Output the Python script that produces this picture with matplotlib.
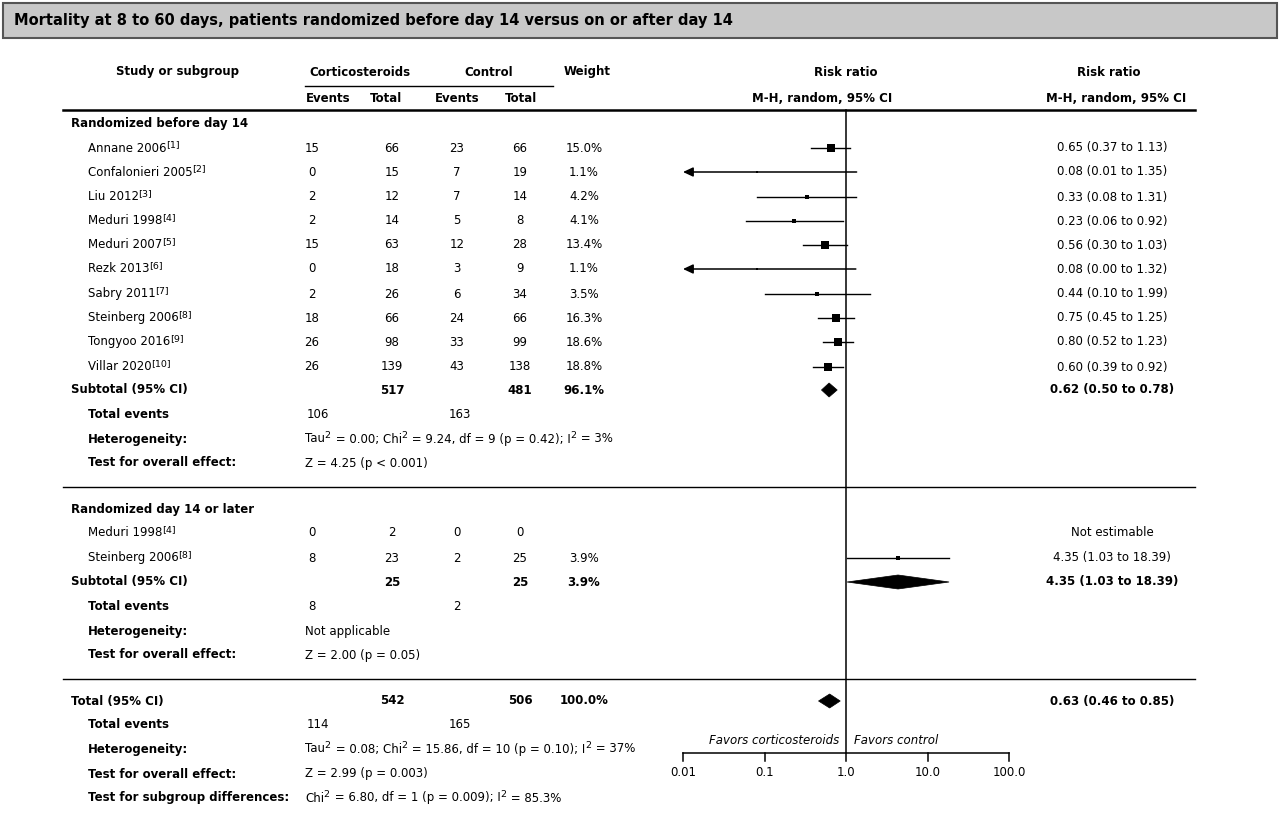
import re
import matplotlib
matplotlib.use('Agg')
import matplotlib.pyplot as plt
from matplotlib.patches import Rectangle, Polygon
import numpy as np

plt.rcParams['font.family'] = ['DejaVu Sans']

title = "Mortality at 8 to 60 days, patients randomized before day 14 versus on or after day 14"

# ---- group 1: randomized before day 14 ----
g1_name = "Randomized before day 14"
g1_studies = ["Annane 2006", "Confalonieri 2005", "Liu 2012", "Meduri 1998", "Meduri 2007",
              "Rezk 2013", "Sabry 2011", "Steinberg 2006", "Tongyoo 2016", "Villar 2020"]
g1_refs = [1, 2, 3, 4, 5, 6, 7, 8, 9, 10]
g1_ev_cs = [15, 0, 2, 2, 15, 0, 2, 18, 26, 26]
g1_tot_cs = [66, 15, 12, 14, 63, 18, 26, 66, 98, 139]
g1_ev_ctl = [23, 7, 7, 5, 12, 3, 6, 24, 33, 43]
g1_tot_ctl = [66, 19, 14, 8, 28, 9, 34, 66, 99, 138]
g1_weight = [15.0, 1.1, 4.2, 4.1, 13.4, 1.1, 3.5, 16.3, 18.6, 18.8]
g1_rr = [0.65, 0.08, 0.33, 0.23, 0.56, 0.08, 0.44, 0.75, 0.80, 0.60]
g1_lo = [0.37, 0.01, 0.08, 0.06, 0.30, 0.00, 0.10, 0.45, 0.52, 0.39]
g1_hi = [1.13, 1.35, 1.31, 0.92, 1.03, 1.32, 1.99, 1.25, 1.23, 0.92]
g1_sub_tot = [517, 481]
g1_sub_weight = 96.1
g1_sub_rr = [0.62, 0.50, 0.78]
g1_events = [106, 163]
g1_het = "Tau$^2$ = 0.00; Chi$^2$ = 9.24, df = 9 (p = 0.42); I$^2$ = 3%"
g1_test = "Z = 4.25 (p < 0.001)"

# ---- group 2: randomized day 14 or later ----
g2_name = "Randomized day 14 or later"
g2_studies = ["Meduri 1998", "Steinberg 2006"]
g2_refs = [4, 8]
g2_ev_cs = [0, 8]
g2_tot_cs = [2, 23]
g2_ev_ctl = [0, 2]
g2_tot_ctl = [0, 25]
g2_weight = [None, 3.9]
g2_rr = [None, 4.35]
g2_lo = [None, 1.03]
g2_hi = [None, 18.39]
g2_sub_tot = [25, 25]
g2_sub_weight = 3.9
g2_sub_rr = [4.35, 1.03, 18.39]
g2_events = [8, 2]
g2_het = "Not applicable"
g2_test = "Z = 2.00 (p = 0.05)"

# ---- overall ----
tot_tot = [542, 506]
tot_weight = 100.0
tot_rr = [0.63, 0.46, 0.85]
tot_events = [114, 165]
tot_het = "Tau$^2$ = 0.08; Chi$^2$ = 15.86, df = 10 (p = 0.10); I$^2$ = 37%"
tot_test = "Z = 2.99 (p = 0.003)"
tot_sub = "Chi$^2$ = 6.80, df = 1 (p = 0.009); I$^2$ = 85.3%"

axis_ticks = [0.01, 0.1, 1.0, 10.0, 100.0]
axis_ticklabels = ["0.01", "0.1", "1.0", "10.0", "100.0"]

W, H = 1280, 827
fig = plt.figure(figsize=(W / 100, H / 100), dpi=100)
ax = fig.add_axes([0, 0, 1, 1])
ax.set_xlim(0, W)
ax.set_ylim(H, 0)
ax.axis('off')
renderer = fig.canvas.get_renderer()

FS = 8.5
X_EVC, X_TOTC, X_EVT, X_TOTT, X_W, X_RR = 312, 392, 457, 520, 584, 1112
X_LAB, X_IND, X_STAT = 71, 88, 305


def t(x, y, s, ha='left', bold=False, italic=False, size=FS):
    return ax.text(x, y, s, ha=ha, va='center', fontsize=size,
                   fontweight='bold' if bold else 'normal',
                   fontstyle='italic' if italic else 'normal', color='black')


def rich(x, y, s, bold=False, size=FS):
    """left-aligned text with $^{..}$ superscripts drawn as separate smaller text"""
    parts = re.split(r'\$\^\{?([^$}]*)\}?\$', s)
    cx = x
    for i, p in enumerate(parts):
        if not p:
            continue
        if i % 2 == 0:
            tx = t(cx, y, p, bold=bold, size=size)
            cx += tx.get_window_extent(renderer).width - 0.5
        else:
            tx = t(cx, y - 3.5, p, bold=bold, size=size * 0.8)
            cx += tx.get_window_extent(renderer).width + 1.0


# title box
ax.add_patch(Rectangle((3, 3), 1274, 35, facecolor='#c8c8c8', edgecolor='#555555', lw=1.5))
t(14, 20.5, title, bold=True, size=10.5)

# headers
t(178, 72, "Study or subgroup", ha='center', bold=True)
t(360, 72, "Corticosteroids", ha='center', bold=True)
t(489, 72, "Control", ha='center', bold=True)
t(587, 72, "Weight", ha='center', bold=True)
ax.plot([305, 553], [86, 86], color='black', lw=1)
for x, s in zip([328, 386, 457, 521], ["Events", "Total", "Events", "Total"]):
    t(x, 98, s, ha='center', bold=True)
t(846, 72, "Risk ratio", ha='center', bold=True)
t(892, 98, "M-H, random, 95% CI", ha='right', bold=True)
t(1109, 72, "Risk ratio", ha='center', bold=True)
t(1116, 98, "M-H, random, 95% CI", ha='center', bold=True)
ax.plot([63, 1195], [110, 110], color='black', lw=1.8)
ax.plot([63, 1195], [487, 487], color='black', lw=1)
ax.plot([63, 1195], [679, 679], color='black', lw=1)

# forest axes
fx0, fx1 = 683, 1009
fa = fig.add_axes([fx0 / W, 0, (fx1 - fx0) / W, 1])
fa.set_xscale('log')
fa.set_xlim(axis_ticks[0], axis_ticks[-1])
fa.set_ylim(H, 0)
fa.axis('off')
fa.patch.set_alpha(0)

AX_Y = 753
fa.plot([1.0, 1.0], [110, AX_Y], color='black', lw=1.1, clip_on=False)
fa.plot([axis_ticks[0], axis_ticks[-1]], [AX_Y, AX_Y], color='black', lw=1.1, clip_on=False)
for tk, tl in zip(axis_ticks, axis_ticklabels):
    fa.plot([tk, tk], [AX_Y, AX_Y + 8], color='black', lw=1.1, clip_on=False)
    fa.text(tk, 773, tl, ha='center', va='center', fontsize=FS)
fa.text(0.83, 741, "Favors corticosteroids", ha='right', va='center', fontsize=FS, fontstyle='italic')
fa.text(1.25, 741, "Favors control", ha='left', va='center', fontsize=FS, fontstyle='italic')


def fmt_rr(r, l, h):
    return f"{r:.2f} ({l:.2f} to {h:.2f})"


def study_row(y, name, ref, evc, totc, evt, tott, w, r, l, h):
    rich(X_IND, y, f"{name}$^{{[{ref}]}}$")
    t(X_EVC, y, str(evc), ha='center')
    t(X_TOTC, y, str(totc), ha='center')
    t(X_EVT, y, str(evt), ha='center')
    t(X_TOTT, y, str(tott), ha='center')
    if w is None:
        t(X_RR, y, "Not estimable", ha='center')
        return
    t(X_W, y, f"{w:.1f}%", ha='center')
    t(X_RR, y, fmt_rr(r, l, h), ha='center')
    if l <= axis_ticks[0]:
        fa.annotate('', xy=(axis_ticks[0], y), xytext=(h, y),
                    arrowprops=dict(arrowstyle='-|>,head_length=0.6,head_width=0.28',
                                    color='black', lw=1.1, shrinkA=0, shrinkB=0),
                    annotation_clip=False)
    else:
        fa.plot([l, h], [y, y], color='black', lw=1.0, clip_on=False)
    side = 2.0 * np.sqrt(w)
    fa.plot([r], [y], marker='s', ms=side * 0.72, color='black', mew=0, clip_on=False)


def diamond(y, r, l, h, hh=7):
    fa.add_patch(Polygon([(l, y), (r, y - hh), (h, y), (r, y + hh)], closed=True,
                         facecolor='black', edgecolor='black', lw=0.5, clip_on=False))


def summary(y, label, tots, w, rrv):
    t(X_LAB, y, label, bold=True)
    t(X_TOTC, y, str(tots[0]), ha='center', bold=True)
    t(X_TOTT, y, str(tots[1]), ha='center', bold=True)
    t(X_W, y, f"{w:.1f}%", ha='center', bold=True)
    t(X_RR, y, fmt_rr(*rrv), ha='center', bold=True)
    diamond(y, *rrv)


# group 1
t(X_LAB, 124, g1_name, bold=True)
g1_y = [148, 172, 197, 221, 245, 269, 294, 318, 342, 367]
for i, y in enumerate(g1_y):
    study_row(y, g1_studies[i], g1_refs[i], g1_ev_cs[i], g1_tot_cs[i], g1_ev_ctl[i],
              g1_tot_ctl[i], g1_weight[i], g1_rr[i], g1_lo[i], g1_hi[i])
summary(390, "Subtotal (95% CI)", g1_sub_tot, g1_sub_weight, g1_sub_rr)
t(X_IND, 414, "Total events", bold=True)
t(318, 414, str(g1_events[0]), ha='center')
t(460, 414, str(g1_events[1]), ha='center')
t(X_IND, 439, "Heterogeneity:", bold=True)
rich(X_STAT, 439, g1_het)
t(X_IND, 463, "Test for overall effect:", bold=True)
t(X_STAT, 463, g1_test)

# group 2
t(X_LAB, 509, g2_name, bold=True)
g2_y = [533, 558]
for i, y in enumerate(g2_y):
    study_row(y, g2_studies[i], g2_refs[i], g2_ev_cs[i], g2_tot_cs[i], g2_ev_ctl[i],
              g2_tot_ctl[i], g2_weight[i], g2_rr[i], g2_lo[i], g2_hi[i])
summary(582, "Subtotal (95% CI)", g2_sub_tot, g2_sub_weight, g2_sub_rr)
t(X_IND, 606, "Total events", bold=True)
t(312, 606, str(g2_events[0]), ha='center')
t(457, 606, str(g2_events[1]), ha='center')
t(X_IND, 631, "Heterogeneity:", bold=True)
t(X_STAT, 631, g2_het)
t(X_IND, 655, "Test for overall effect:", bold=True)
t(X_STAT, 655, g2_test)

# total
summary(701, "Total (95% CI)", tot_tot, tot_weight, tot_rr)
t(X_IND, 725, "Total events", bold=True)
t(318, 725, str(tot_events[0]), ha='center')
t(460, 725, str(tot_events[1]), ha='center')
t(X_IND, 749, "Heterogeneity:", bold=True)
rich(X_STAT, 749, tot_het)
t(X_IND, 774, "Test for overall effect:", bold=True)
t(X_STAT, 774, tot_test)
t(X_IND, 798, "Test for subgroup differences:", bold=True)
rich(X_STAT, 798, tot_sub)

fig.savefig('out.png', dpi=100)
